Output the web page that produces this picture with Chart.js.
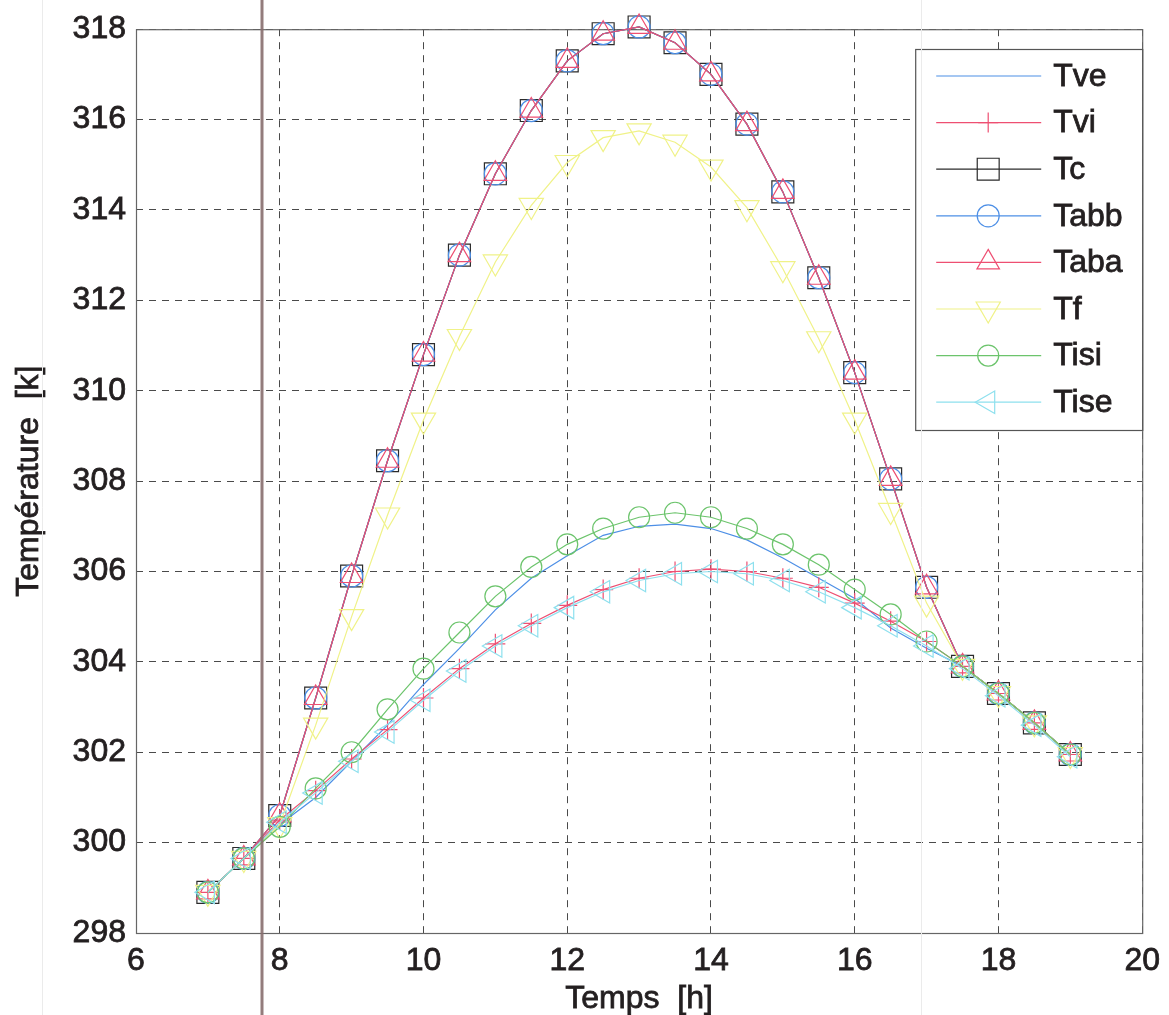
<!DOCTYPE html>
<html>
<head>
<meta charset="utf-8">
<title>Températures</title>
<script src="https://cdn.jsdelivr.net/npm/chart.js@4.4.1/dist/chart.umd.min.js"></script>
<style>
  html, body { margin: 0; padding: 0; background: #fff; }
  #wrap { width: 1169px; height: 1015px; position: relative; }
</style>
</head>
<body>
<div id="wrap"><canvas id="tempChart"></canvas></div>
<script>
// time in hours, every half hour
const hours = [7, 7.5, 8, 8.5, 9, 9.5, 10, 10.5, 11, 11.5, 12, 12.5, 13, 13.5, 14, 14.5, 15, 15.5, 16, 16.5, 17, 17.5, 18, 18.5, 19];

// temperatures [K]
const Tve  = [298.9, 299.65, 300.4, 301.0, 301.8, 302.6, 303.5, 304.3, 305.15, 305.85, 306.35, 306.8, 307.0, 307.05, 306.95, 306.7, 306.3, 305.85, 305.4, 304.75, 304.3, 303.9, 303.3, 302.65, 301.95];
const Tvi  = [298.9, 299.65, 300.5, 301.15, 301.85, 302.5, 303.2, 303.85, 304.4, 304.85, 305.25, 305.6, 305.85, 306.0, 306.05, 306.0, 305.85, 305.65, 305.3, 304.9, 304.45, 303.9, 303.3, 302.65, 301.95];
const Tc   = [298.9, 299.65, 300.6, 303.2, 305.9, 308.45, 310.8, 313.0, 314.8, 316.2, 317.3, 317.9, 318.05, 317.7, 317.0, 315.9, 314.4, 312.5, 310.4, 308.05, 305.65, 303.9, 303.3, 302.65, 301.95];
const Tabb = [298.9, 299.65, 300.6, 303.2, 305.9, 308.45, 310.8, 313.0, 314.8, 316.2, 317.3, 317.9, 318.05, 317.7, 317.0, 315.9, 314.4, 312.5, 310.4, 308.05, 305.65, 303.9, 303.3, 302.65, 301.95];
const Taba = [298.9, 299.65, 300.6, 303.2, 305.9, 308.45, 310.8, 313.0, 314.8, 316.2, 317.3, 317.9, 318.05, 317.7, 317.0, 315.9, 314.4, 312.5, 310.4, 308.05, 305.65, 303.9, 303.3, 302.65, 301.95];
const Tf   = [298.9, 299.65, 300.4, 302.6, 305.0, 307.25, 309.35, 311.2, 312.85, 314.1, 315.05, 315.6, 315.75, 315.5, 314.95, 314.05, 312.7, 311.15, 309.35, 307.35, 305.3, 303.9, 303.3, 302.65, 301.95];
const Tisi = [298.9, 299.65, 300.35, 301.2, 302.0, 302.95, 303.85, 304.65, 305.45, 306.1, 306.6, 306.95, 307.2, 307.3, 307.2, 306.95, 306.6, 306.15, 305.6, 305.05, 304.45, 303.9, 303.3, 302.65, 301.95];
const Tise = [298.9, 299.65, 300.45, 301.1, 301.8, 302.45, 303.15, 303.8, 304.35, 304.8, 305.2, 305.55, 305.8, 305.95, 306.0, 305.95, 305.8, 305.55, 305.2, 304.8, 304.35, 303.85, 303.25, 302.6, 301.9];

const seriesNames = ["Tve", "Tvi", "Tc", "Tabb", "Taba", "Tf", "Tisi", "Tise"];
const seriesValues = [Tve, Tvi, Tc, Tabb, Taba, Tf, Tisi, Tise];

const xTicks = [6, 8, 10, 12, 14, 16, 18, 20];
const yTicks = [298, 300, 302, 304, 306, 308, 310, 312, 314, 316, 318];

const xTitle = "Temps  [h]";
const yTitle = "Température  [k]";

// line colour and marker for each curve
const styles = [
  { color: "#4d8fe6", pointStyle: false,      radius: 0,    rotation: 0 },
  { color: "#ee4f72", pointStyle: "cross",    radius: 10,   rotation: 0 },
  { color: "#2b2b2b", pointStyle: "rect",     radius: 15.5, rotation: 0 },
  { color: "#4d8fe6", pointStyle: "circle",   radius: 11,   rotation: 0 },
  { color: "#ee4f72", pointStyle: "triangle", radius: 13,   rotation: 0 },
  { color: "#f0f288", pointStyle: "triangle", radius: 14,   rotation: 180 },
  { color: "#6cc46c", pointStyle: "circle",   radius: 10.5, rotation: 0 },
  { color: "#8ee0ee", pointStyle: "triangle", radius: 13,   rotation: -90 }
];

const FONT = "'Liberation Sans', Arial, sans-serif";
const TEXT = "#231f20";

const datasets = seriesNames.map((name, i) => ({
  label: name,
  data: hours.map((h, k) => ({ x: h, y: seriesValues[i][k] })),
  borderColor: styles[i].color,
  backgroundColor: "rgba(0,0,0,0)",
  borderWidth: 1.2,
  pointStyle: styles[i].pointStyle,
  pointRadius: styles[i].radius,
  pointRotation: styles[i].rotation,
  pointBorderColor: styles[i].color,
  pointBackgroundColor: "rgba(0,0,0,0)",
  pointBorderWidth: 1.2,
  tension: 0,
  clip: false,
  order: seriesNames.length - 1 - i   // later curves on top
}));

// heavy text, same weight as the tick labels
function heavyText(ctx, str, x, y) {
  ctx.fillStyle = TEXT;
  ctx.strokeStyle = TEXT;
  ctx.lineWidth = 0.8;
  ctx.strokeText(str, x, y);
  ctx.fillText(str, x, y);
}

// solid frame round the plot area
const frame = {
  id: "frame",
  beforeDatasetsDraw(chart) {
    const { ctx, chartArea: a } = chart;
    ctx.save();
    ctx.strokeStyle = "#666";
    ctx.lineWidth = 1.2;
    ctx.strokeRect(a.left + 0.5, a.top + 0.5, a.right - a.left, a.bottom - a.top);
    ctx.restore();
  }
};

// axis titles
const axisTitles = {
  id: "axisTitles",
  afterDraw(chart) {
    const { ctx, chartArea: a } = chart;
    ctx.save();
    ctx.font = "32px " + FONT;
    ctx.textAlign = "center";
    ctx.textBaseline = "middle";
    heavyText(ctx, xTitle, (a.left + a.right) / 2, 999);
    ctx.translate(29, (a.top + a.bottom) / 2);
    ctx.rotate(-Math.PI / 2);
    heavyText(ctx, yTitle, 0, 0);
    ctx.restore();
  }
};

// boxed legend in the upper right corner
const boxLegend = {
  id: "boxLegend",
  afterDatasetsDraw(chart) {
    const { ctx, chartArea: a } = chart;
    const x1 = a.right, x0 = x1 - 227, y0 = 49, y1 = 430;
    ctx.save();
    ctx.fillStyle = "#fff";
    ctx.fillRect(x0, y0, x1 - x0, y1 - y0);
    ctx.strokeStyle = "#555";
    ctx.lineWidth = 1.2;
    ctx.strokeRect(x0 + 0.5, y0 + 0.5, x1 - x0, y1 - y0);
    ctx.font = "32px " + FONT;
    ctx.textBaseline = "middle";
    ctx.textAlign = "left";
    seriesNames.forEach((name, i) => {
      const y = 76 + i * 46.6;
      const s = styles[i];
      ctx.strokeStyle = s.color;
      ctx.lineWidth = 1.2;
      ctx.beginPath();
      ctx.moveTo(x0 + 21, y);
      ctx.lineTo(x0 + 126, y);
      ctx.stroke();
      if (s.pointStyle) {
        ctx.fillStyle = "rgba(0,0,0,0)";
        Chart.helpers.drawPoint(ctx, {
          pointStyle: s.pointStyle, rotation: s.rotation,
          radius: s.radius, borderWidth: 1.2
        }, x0 + 73, y);
      }
      heavyText(ctx, name, x0 + 138, y + 1);
    });
    ctx.restore();
  }
};

// fold line of the paper sheet
const fold = {
  id: "fold",
  afterDraw(chart) {
    const { ctx, height } = chart;
    ctx.save();
    ctx.strokeStyle = "rgba(235,235,235,1)";
    ctx.lineWidth = 1;
    [42.5, 921.5].forEach(x => {
      ctx.beginPath(); ctx.moveTo(x, 0); ctx.lineTo(x, height); ctx.stroke();
    });
    ctx.strokeStyle = "rgba(135,110,110,0.9)";
    ctx.lineWidth = 3;
    ctx.beginPath(); ctx.moveTo(262, 0); ctx.lineTo(262, height); ctx.stroke();
    ctx.restore();
  }
};

const tickStyle = {
  color: TEXT,
  font: { family: FONT, size: 32 },
  textStrokeColor: TEXT,
  textStrokeWidth: 0.8
};

new Chart(document.getElementById("tempChart"), {
  type: "line",
  data: { datasets },
  options: {
    responsive: true,
    maintainAspectRatio: false,
    animation: false,
    layout: { padding: { top: 28, right: 22, left: 0, bottom: 0 } },
    plugins: { legend: { display: false }, tooltip: { enabled: false } },
    scales: {
      x: {
        type: "linear",
        min: 6, max: 20,
        afterBuildTicks: s => { s.ticks = xTicks.map(v => ({ value: v })); },
        afterFit: s => { s.height = 82; },
        grid: { color: "#4a4a4a", lineWidth: 1, drawTicks: false },
        border: { display: false, dash: [7, 6] },
        ticks: { ...tickStyle, padding: 9, maxRotation: 0 }
      },
      y: {
        type: "linear",
        min: 298, max: 318,
        afterBuildTicks: s => { s.ticks = yTicks.map(v => ({ value: v })); },
        afterFit: s => { s.width = 136; },
        grid: { color: "#4a4a4a", lineWidth: 1, drawTicks: false },
        border: { display: false, dash: [7, 6] },
        ticks: { ...tickStyle, padding: 10 }
      }
    }
  },
  plugins: [frame, boxLegend, axisTitles, fold]
});
</script>
</body>
</html>
